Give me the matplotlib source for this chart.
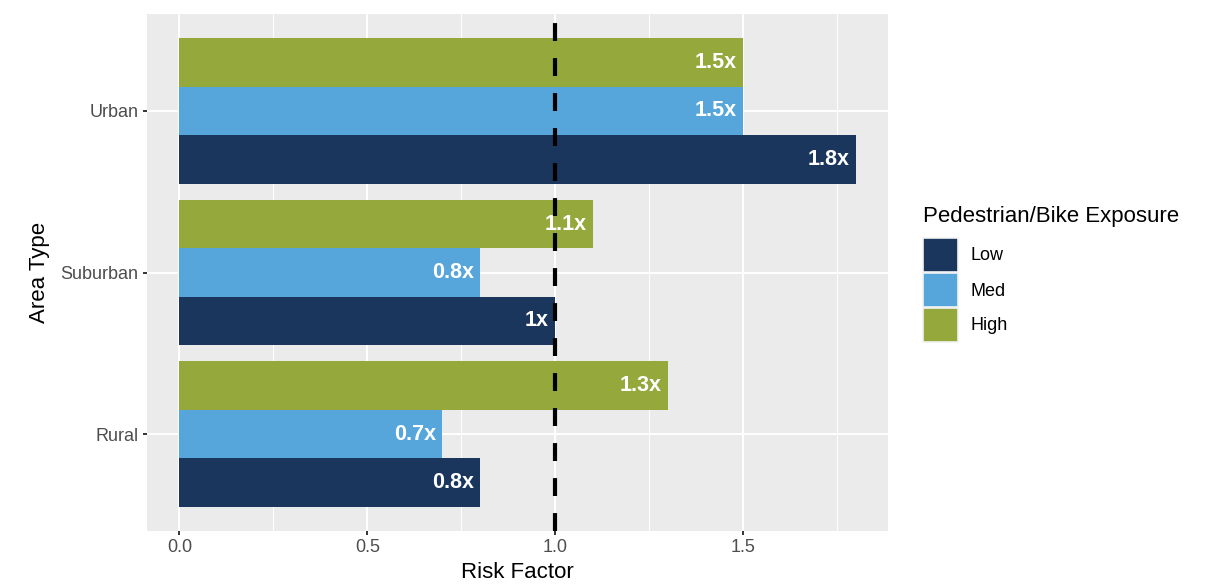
import matplotlib
matplotlib.use("Agg")
import matplotlib.pyplot as plt
from matplotlib.patches import Rectangle
import numpy as np

plt.rcParams['font.family'] = ['Liberation Sans', 'DejaVu Sans']

# ---- data ----
areas = ["Rural", "Suburban", "Urban"]
exposure = ["Low", "Med", "High"]
low_vals = [0.8, 1.0, 1.8]
med_vals = [0.7, 0.8, 1.5]
high_vals = [1.3, 1.1, 1.5]
colors = {"Low": "#1A365D", "Med": "#56A6DB", "High": "#95A83B"}
x_ticks = [0.0, 0.5, 1.0, 1.5]
x_tick_labels = ["0.0", "0.5", "1.0", "1.5"]
ref_line = 1.0

W, H = 1205, 584
fig = plt.figure(figsize=(W / 100, H / 100), dpi=100)
ax = fig.add_axes([147 / W, 1 - 531 / H, (888 - 147) / W, (531 - 14) / H])
ax.set_facecolor("#EBEBEB")
for s in ax.spines.values():
    s.set_visible(False)

ypos = np.arange(1, len(areas) + 1)
bar_h = 0.3
series = [("Low", low_vals, -0.3), ("Med", med_vals, 0.0), ("High", high_vals, 0.3)]
for name, vals, off in series:
    ax.barh(ypos + off, vals, height=bar_h, color=colors[name], zorder=2)
    for y, v in zip(ypos + off, vals):
        ax.annotate(f"{v:g}x", xy=(v, y), xytext=(-4.5, 0), textcoords="offset points",
                    ha="right", va="center", color="white", fontsize=15.5,
                    fontweight="bold", zorder=3)

ax.axvline(ref_line, color="black", lw=3, linestyle=(0, (4.3, 4.1)),
           dash_capstyle="butt", zorder=4)

ax.set_xlim(-0.0865, 1.886)
ax.set_ylim(0.4, 3.6)
ax.set_xticks(x_ticks)
ax.set_xticklabels(x_tick_labels)
ax.set_xticks([0.25, 0.75, 1.25, 1.75], minor=True)
ax.set_yticks(ypos)
ax.set_yticklabels(areas)
ax.grid(which="major", color="white", lw=1.4, zorder=1)
ax.grid(which="minor", axis="x", color="white", lw=0.7, zorder=1)
ax.set_axisbelow(True)
ax.tick_params(which="major", length=3, width=1.4, color="#333333",
               labelsize=13, labelcolor="#4D4D4D", pad=3)
ax.tick_params(which="minor", length=0)

ax.set_xlabel("Risk Factor", fontsize=16, color="black", labelpad=4)
ax.set_ylabel("Area Type", fontsize=16, color="black", labelpad=8)

# ---- legend (manual, ggplot style) ----
def fx(x):
    return x / W

def fy(y):
    return 1 - y / H

fig.text(fx(923), fy(222), "Pedestrian/Bike Exposure", fontsize=16,
         ha="left", va="baseline", color="black")
key_tops = [237.5, 272.5, 307.5]
for name, top in zip(exposure, key_tops):
    fig.add_artist(Rectangle((fx(923), fy(top + 34.5)), 35 / W, 34.5 / H,
                             transform=fig.transFigure, facecolor=colors[name],
                             edgecolor="#F2F2F2", lw=1.2))
    fig.text(fx(970), fy(top + 18.5), name, fontsize=13, ha="left",
             va="center", color="black")

fig.savefig("out.png", dpi=100)
